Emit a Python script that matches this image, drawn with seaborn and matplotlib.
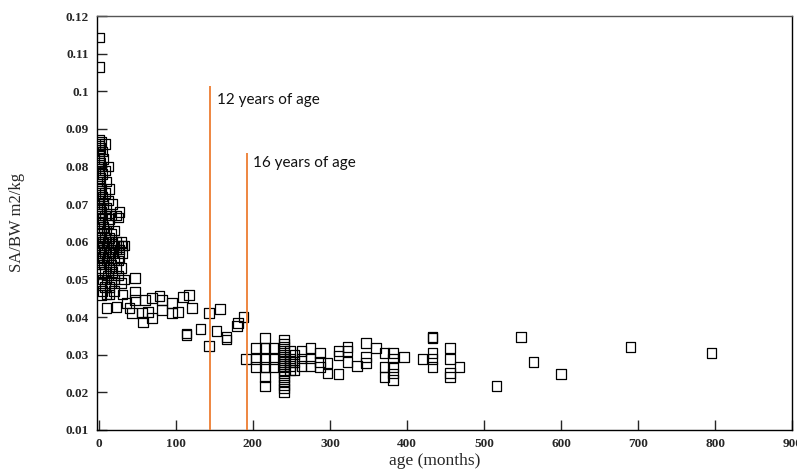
"""Body surface area to body weight ratio against age, scatter with age markers."""

import matplotlib

matplotlib.use("Agg")

import matplotlib.pyplot as plt
import pandas as pd
import seaborn as sns

# infants and young children (months 0-34)
early_age = [
    0, 0,
    0, 0, 0, 0, 0, 0, 0, 0, 0, 0, 0, 0, 0, 0, 0, 0, 0, 0,
    1, 1, 1, 1, 1, 1, 1, 1, 1,
    2, 2, 2, 2, 2, 2, 2, 2, 2,
    3, 3, 3, 3, 3, 3, 3, 3,
    5, 5, 5, 5, 5, 5, 5, 5,
    6, 6, 6, 6, 6,
    8, 8, 8, 8, 8, 8, 8, 8,
    10, 10, 10, 10, 10, 10, 10,
    12, 12, 12, 12, 12, 12,
    14, 14, 14, 14, 14, 14,
    16, 16, 16, 16, 16,
    18, 18, 18, 18,
    20, 20, 20, 20, 20,
    22, 22, 22, 22,
    25, 25, 25, 25,
    27, 27, 27,
    29, 29, 29,
    31, 31,
    33, 33,
]
early_ratio = [
    0.1143, 0.1065,
    0.0870, 0.0855, 0.0840, 0.0820, 0.0800, 0.0780, 0.0760, 0.0740, 0.0720,
    0.0700, 0.0680, 0.0660, 0.0640, 0.0620, 0.0600, 0.0580, 0.0560, 0.0540,
    0.0860, 0.0830, 0.0790, 0.0750, 0.0710, 0.0670, 0.0630, 0.0590, 0.0550,
    0.0850, 0.0810, 0.0770, 0.0730, 0.0690, 0.0650, 0.0610, 0.0570, 0.0530,
    0.0865, 0.0800, 0.0740, 0.0680, 0.0620, 0.0580, 0.0520, 0.0490,
    0.0840, 0.0780, 0.0720, 0.0660, 0.0600, 0.0560, 0.0500, 0.0470,
    0.0820, 0.0700, 0.0640, 0.0580, 0.0540,
    0.0860, 0.0790, 0.0730, 0.0670, 0.0610, 0.0570, 0.0520, 0.0480,
    0.0760, 0.0690, 0.0630, 0.0590, 0.0550, 0.0500, 0.0460,
    0.0800, 0.0710, 0.0650, 0.0600, 0.0560, 0.0510,
    0.0740, 0.0660, 0.0610, 0.0570, 0.0530, 0.0480,
    0.0670, 0.0620, 0.0580, 0.0540, 0.0490,
    0.0700, 0.0600, 0.0570, 0.0520,
    0.0630, 0.0590, 0.0550, 0.0500, 0.0470,
    0.0670, 0.0600, 0.0580, 0.0530,
    0.0665, 0.0590, 0.0550, 0.0510,
    0.0680, 0.0580, 0.0560,
    0.0600, 0.0530, 0.0490,
    0.0590, 0.0570,
    0.0590, 0.0500,
]

# childhood to adolescence (months 35-192)
mid_age = [
    47, 3, 14, 31, 47, 47, 60, 69, 79, 82, 95, 109, 117,
    10, 23, 36, 40, 43, 56, 57, 69, 64, 82, 95, 103, 121,
    114, 114, 132, 143, 143, 157, 153, 166, 166, 179, 181, 188,
]
mid_ratio = [
    0.0504, 0.0459, 0.0460, 0.0460, 0.0467, 0.0445, 0.0445, 0.0450, 0.0456,
    0.0445, 0.0437, 0.0453, 0.0459,
    0.0424, 0.0427, 0.0437, 0.0424, 0.0411, 0.0411, 0.0387, 0.0398, 0.0414,
    0.0419, 0.0411, 0.0414, 0.0424,
    0.0352, 0.0356, 0.0368, 0.0411, 0.0323, 0.0422, 0.0363, 0.0347, 0.0340,
    0.0376, 0.0384, 0.0400,
]

# adults (months 190+)
adult_age = [
    191,
    204, 204, 204,
    216, 216, 216, 216, 216, 216,
    227, 227, 227,
    240, 240, 240, 240, 240, 240, 240, 240, 240, 240, 240, 240, 240, 240,
    240, 240, 240, 240,
    248, 248, 248, 248, 248,
    254, 254, 254,
    263, 263, 263,
    275, 275, 275,
    287, 287, 287,
    297, 297,
    311, 311, 311,
    323, 323, 323,
    335,
    347, 347, 347,
    360,
    371, 371, 371,
    382, 382, 382, 382, 382,
    396,
    420,
    433, 433, 433, 433, 433,
    456, 456, 456, 456,
    468,
    516, 548, 564, 600, 690, 795,
]
adult_ratio = [
    0.0289,
    0.0318, 0.0289, 0.0267,
    0.0345, 0.0318, 0.0289, 0.0267, 0.0241, 0.0217,
    0.0318, 0.0289, 0.0267,
    0.0340, 0.0330, 0.0320, 0.0310, 0.0300, 0.0295, 0.0290, 0.0285, 0.0280,
    0.0275, 0.0270, 0.0260, 0.0250, 0.0240, 0.0230, 0.0220, 0.0210, 0.0200,
    0.0310, 0.0290, 0.0280, 0.0270, 0.0260,
    0.0300, 0.0280, 0.0260,
    0.0310, 0.0290, 0.0270,
    0.0318, 0.0290, 0.0270,
    0.0305, 0.0280, 0.0267,
    0.0278, 0.0250,
    0.0310, 0.0298, 0.0248,
    0.0320, 0.0310, 0.0280,
    0.0270,
    0.0331, 0.0294, 0.0278,
    0.0318,
    0.0305, 0.0267, 0.0240,
    0.0305, 0.0290, 0.0267, 0.0250, 0.0233,
    0.0294,
    0.0289,
    0.0347, 0.0345, 0.0305, 0.0289, 0.0267,
    0.0318, 0.0289, 0.0252, 0.0241,
    0.0267,
    0.0217, 0.0347, 0.0280, 0.0249, 0.0321, 0.0305,
]

marker_ages = [144, 192]
marker_tops = [0.1013, 0.0836]
marker_labels = ["12 years of age", "16 years of age"]
marker_text_pos = [(153, 0.0976), (200, 0.0810)]

x_ticks = [0, 100, 200, 300, 400, 500, 600, 700, 800, 900]
y_ticks = [0.01, 0.02, 0.03, 0.04, 0.05, 0.06, 0.07, 0.08, 0.09, 0.1, 0.11, 0.12]
y_tick_labels = ["0.01", "0.02", "0.03", "0.04", "0.05", "0.06", "0.07",
                 "0.08", "0.09", "0.1", "0.11", "0.12"]

ORANGE = "#ED7D31"

df = pd.DataFrame({
    "age": early_age + mid_age + adult_age,
    "ratio": early_ratio + mid_ratio + adult_ratio,
})

sns.set_theme(style="ticks")
plt.rcParams["font.family"] = ["Liberation Serif", "DejaVu Serif"]

fig = plt.figure(figsize=(7.97, 4.74), dpi=100)
ax = fig.add_axes([0.122, 0.093, 0.872, 0.873])

sns.scatterplot(
    data=df, x="age", y="ratio", ax=ax, marker="s", s=48,
    facecolor="none", edgecolor="black", linewidth=0.9, legend=False,
)

for age, top in zip(marker_ages, marker_tops):
    ax.vlines(age, 0.01, top, color=ORANGE, linewidth=1.3, zorder=3)
for label, (tx, ty) in zip(marker_labels, marker_text_pos):
    ax.text(tx, ty, label, fontsize=11, family=["Lato", "DejaVu Sans"],
            ha="left", va="center", color="#111111")

ax.set_xlim(-2, 900)
ax.set_ylim(0.01, 0.12)
ax.set_xticks(x_ticks)
ax.set_xticklabels([str(t) for t in x_ticks])
ax.set_yticks(y_ticks)
ax.set_yticklabels(y_tick_labels)
ax.tick_params(direction="in", length=7, width=1.0, labelsize=9.5, pad=6)
for lab in ax.get_xticklabels() + ax.get_yticklabels():
    lab.set_fontweight("bold")

for side in ["top", "right", "left", "bottom"]:
    ax.spines[side].set_visible(True)
    ax.spines[side].set_color("black")
    ax.spines[side].set_linewidth(1.0)
ax.spines["top"].set_color("#555555")

ax.set_xlabel("age (months)", fontsize=12.5)
ax.set_ylabel("SA/BW m2/kg", fontsize=12)
ax.xaxis.set_label_coords(0.485, -0.055)
ax.yaxis.set_label_coords(-0.104, 0.502)

fig.savefig("out.png", dpi=100)
plt.close(fig)
